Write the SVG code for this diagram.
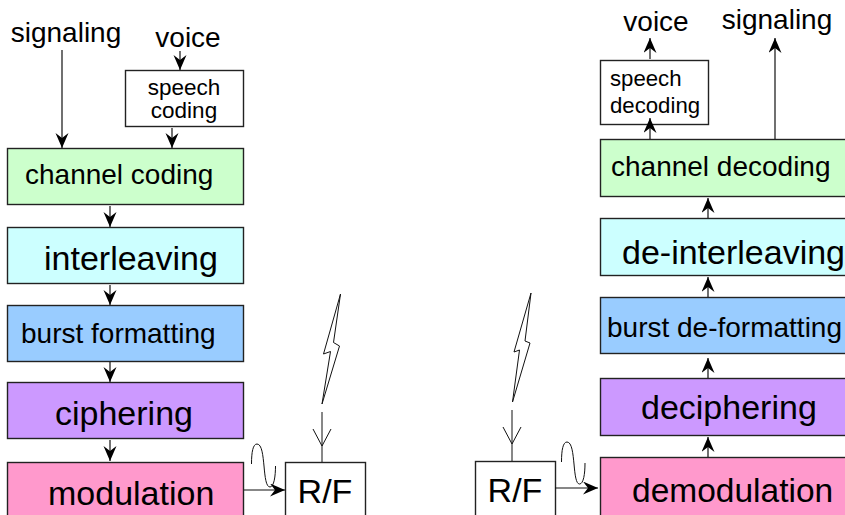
<svg xmlns="http://www.w3.org/2000/svg" width="845" height="515" viewBox="0 0 845 515">
<style>
text{font-family:"Liberation Sans",Arial,sans-serif;fill:#000}
.b{stroke:#222;stroke-width:1.4}
.c{stroke:#111;stroke-width:1.2;fill:none}
.t{stroke:#111;stroke-width:1;fill:none}
</style>
<defs>
<marker id="a" markerUnits="userSpaceOnUse" markerWidth="16" markerHeight="14" refX="15" refY="6.500" orient="auto"><path d="M0 0L15 6.500L0 13L5 6.500Z" fill="#000"/></marker>
</defs>
<rect width="845" height="515" fill="#fff"/>
<g id="signaling-in"><text x="66" y="42" font-size="28" text-anchor="middle">signaling</text></g>
<g id="voice-in"><text x="188" y="47" font-size="28" text-anchor="middle">voice</text></g>
<g id="speech-coding"><rect class="b" x="125.500" y="70.500" width="118" height="56" fill="#fff"/><text x="184" y="95" font-size="22.500" text-anchor="middle">speech</text><text x="184" y="118" font-size="22.500" text-anchor="middle">coding</text></g>
<g id="channel-coding"><rect class="b" x="7.500" y="148.500" width="236" height="56" fill="#ccffcc"/><text x="25" y="184" font-size="28">channel coding</text></g>
<g id="interleaving"><rect class="b" x="7.500" y="227.500" width="236" height="56" fill="#ccffff"/><text x="44" y="270" font-size="34">interleaving</text></g>
<g id="burst-formatting"><rect class="b" x="7.500" y="305.500" width="236" height="56" fill="#99ccff"/><text x="21" y="343" font-size="28">burst formatting</text></g>
<g id="ciphering"><rect class="b" x="7.500" y="382.500" width="236" height="56" fill="#cc99ff"/><text x="55" y="425" font-size="34">ciphering</text></g>
<g id="modulation"><rect class="b" x="7.500" y="462.500" width="236" height="60" fill="#ff99cc"/><text x="48" y="505" font-size="34">modulation</text></g>
<g id="rf-tx"><rect class="b" x="285.500" y="462.500" width="80" height="60" fill="#fff"/><text x="325" y="503" font-size="34" text-anchor="middle">R/F</text></g>
<g id="tx-antenna"><path class="t" d="M322 412V462M313 429L322 446L331 429"/><path class="t" d="M340.500 294L323.500 354L330.500 351.500L322 404L339.500 346L333.500 342.500Z"/></g>
<path id="tx-wave" class="t" d="M251.500 464C251.500 452 253 444 257 444C262 444 263 456 264 466C265 477 266 487 270 487C274 487 275.500 476 275.500 466"/>
<g id="rf-rx"><rect class="b" x="475.500" y="461.500" width="80" height="60" fill="#fff"/><text x="515" y="502" font-size="34" text-anchor="middle">R/F</text></g>
<g id="rx-antenna"><path class="t" d="M512 410V461M503 427L512 444L521 427"/><path class="t" d="M531 293L514 352L519.500 350L512.500 402L530 343L525 341Z"/></g>
<path id="rx-wave" class="t" d="M561.500 462C561.500 450 563 442 567 442C572 442 573 454 574 464C575 475 576 484 579.500 484C583.500 484 585 474 585 463"/>
<g id="demodulation"><rect class="b" x="600.500" y="457.500" width="250" height="60" fill="#ff99cc"/><text x="632" y="502" font-size="33.500">demodulation</text></g>
<g id="deciphering"><rect class="b" x="600.500" y="378.500" width="250" height="57" fill="#cc99ff"/><text x="641" y="419" font-size="34">deciphering</text></g>
<g id="burst-deformatting"><rect class="b" x="600.500" y="297.500" width="250" height="56" fill="#99ccff"/><text x="607" y="337" font-size="28">burst de-formatting</text></g>
<g id="de-interleaving"><rect class="b" x="600.500" y="218.500" width="250" height="57" fill="#ccffff"/><text x="622" y="264" font-size="34">de-interleaving</text></g>
<g id="channel-decoding"><rect class="b" x="600.500" y="139.500" width="250" height="57" fill="#ccffcc"/><text x="611" y="176" font-size="28">channel decoding</text></g>
<g id="speech-decoding"><rect class="b" x="600.500" y="60.500" width="108" height="64" fill="#fff"/><text x="610" y="86" font-size="22.200">speech</text><text x="610" y="113" font-size="22.200">decoding</text></g>
<g id="voice-out"><text x="656" y="31" font-size="28" text-anchor="middle">voice</text></g>
<g id="signaling-out"><text x="777" y="29" font-size="28" text-anchor="middle">signaling</text></g>
<g id="connectors">
<path class="c" d="M62 50V148" marker-end="url(#a)"/>
<path class="c" d="M180 51V70" marker-end="url(#a)"/>
<path class="c" d="M172 128V148" marker-end="url(#a)"/>
<path class="c" d="M110 206V227" marker-end="url(#a)"/>
<path class="c" d="M110 285V305" marker-end="url(#a)"/>
<path class="c" d="M110 362V382" marker-end="url(#a)"/>
<path class="c" d="M110 440V461" marker-end="url(#a)"/>
<path class="c" d="M244 490H285" marker-end="url(#a)"/>
<path class="c" d="M555 488H598" marker-end="url(#a)"/>
<path class="c" d="M650 59V38" marker-end="url(#a)"/>
<path class="c" d="M775 139V38" marker-end="url(#a)"/>
<path class="c" d="M650 139V118" marker-end="url(#a)"/>
<path class="c" d="M708 218V198" marker-end="url(#a)"/>
<path class="c" d="M708 297V277" marker-end="url(#a)"/>
<path class="c" d="M708 378V358" marker-end="url(#a)"/>
<path class="c" d="M708 457V437" marker-end="url(#a)"/>
</g>
</svg>
